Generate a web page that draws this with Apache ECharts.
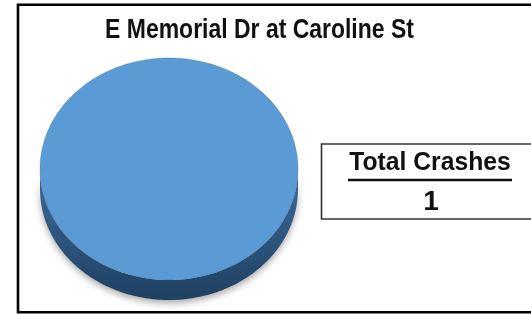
<!DOCTYPE html>
<html>
<head>
<meta charset="utf-8">
<script src="https://cdn.jsdelivr.net/npm/echarts@6/dist/echarts.min.js"></script>
<style>
  html, body { margin: 0; padding: 0; background: #fff; }
  #crashChart { width: 531px; height: 314px; }
</style>
</head>
<body>
<div id="crashChart"></div>
<script type="text/javascript">
// chart data
const chartTitle = 'E Memorial Dr at Caroline St'
const categories = ['Crashes']
const values = [1]
const totalLabel = 'Total Crashes'

const total = values.reduce((a, b) => a + b, 0)
const FONT = '"Liberation Sans", Arial, sans-serif'

// pie geometry (3D ellipse)
const pie = { cx: 169, cy: 169, rx: 129, ry: 111, depth: 20 }

function ellPoint (t, dy) {
  return [pie.cx + pie.rx * Math.cos(t), pie.cy + dy + pie.ry * Math.sin(t)]
}

function arcPoints (a0, a1, dy) {
  const pts = []
  const n = Math.max(8, Math.ceil((a1 - a0) / 0.02))
  for (let i = 0; i <= n; i++) pts.push(ellPoint(a0 + (a1 - a0) * i / n, dy))
  return pts
}

// slice angles start at 12 o'clock, clockwise
const slices = []
let acc = -Math.PI / 2
values.forEach((v) => {
  const span = v / total * Math.PI * 2
  slices.push([acc, acc + span])
  acc += span
})

function renderSlice (params, api) {
  const [a0, a1] = slices[params.dataIndex]
  const children = []
  // front wall: the part of the slice facing the viewer (0..PI)
  for (let k = -1; k <= 1; k++) {
    const lo = Math.max(a0, 2 * Math.PI * k)
    const hi = Math.min(a1, 2 * Math.PI * k + Math.PI)
    if (hi > lo) {
      const pts = arcPoints(lo, hi, pie.depth).concat(arcPoints(lo, hi, 0).reverse())
      children.push({
        type: 'polygon',
        shape: { points: pts },
        style: {
          fill: new echarts.graphic.LinearGradient(0, 0, 0, 1, [
            { offset: 0, color: '#3b6d9b' },
            { offset: 1, color: '#1f4062' }
          ]),
          shadowBlur: 7,
          shadowOffsetY: 3,
          shadowColor: 'rgba(0,0,0,0.35)'
        }
      })
    }
  }
  const full = a1 - a0 >= Math.PI * 2 - 1e-6
  const top = full ? arcPoints(a0, a1, 0) : [[pie.cx, pie.cy]].concat(arcPoints(a0, a1, 0))
  children.push({
    type: 'polygon',
    shape: { points: top },
    style: {
      fill: api.visual('color'),
      stroke: 'rgba(60,80,100,0.45)',
      lineWidth: 0.6
    }
  })
  return { type: 'group', children }
}

const myChart = echarts.init(document.getElementById('crashChart'))
myChart.setOption({
  animation: false,
  color: ['#5b9bd5'],
  series: [
    {
      type: 'custom',
      coordinateSystem: 'none',
      renderItem: renderSlice,
      data: categories.map((c, i) => ({ name: c, value: [values[i]] }))
    }
  ],
  graphic: [
    {
      type: 'rect',
      shape: { x: 18, y: 4.7, width: 600, height: 307.6 },
      style: { fill: 'none', stroke: '#000', lineWidth: 2.6 },
      z: 10
    },
    {
      // narrow bold title
      type: 'text',
      x: 259.5,
      y: 30,
      scaleX: 0.82,
      style: {
        text: chartTitle,
        font: 'bold 28px ' + FONT,
        fill: '#111',
        textAlign: 'center',
        textVerticalAlign: 'middle'
      }
    },
    {
      type: 'rect',
      shape: { x: 321.5, y: 144, width: 300, height: 75 },
      style: { fill: '#fff', stroke: '#333', lineWidth: 1.6 }
    },
    {
      type: 'text',
      x: 430,
      y: 162.5,
      scaleX: 0.95,
      style: {
        text: totalLabel,
        font: 'bold 26px ' + FONT,
        fill: '#111',
        textAlign: 'center',
        textVerticalAlign: 'middle'
      }
    },
    {
      type: 'line',
      shape: { x1: 348, y1: 180, x2: 512, y2: 180 },
      style: { stroke: '#111', lineWidth: 2.5 }
    },
    {
      type: 'text',
      x: 431,
      y: 202,
      style: {
        text: String(total),
        font: 'bold 28px ' + FONT,
        fill: '#111',
        textAlign: 'center',
        textVerticalAlign: 'middle'
      }
    }
  ]
})
</script>
</body>
</html>
